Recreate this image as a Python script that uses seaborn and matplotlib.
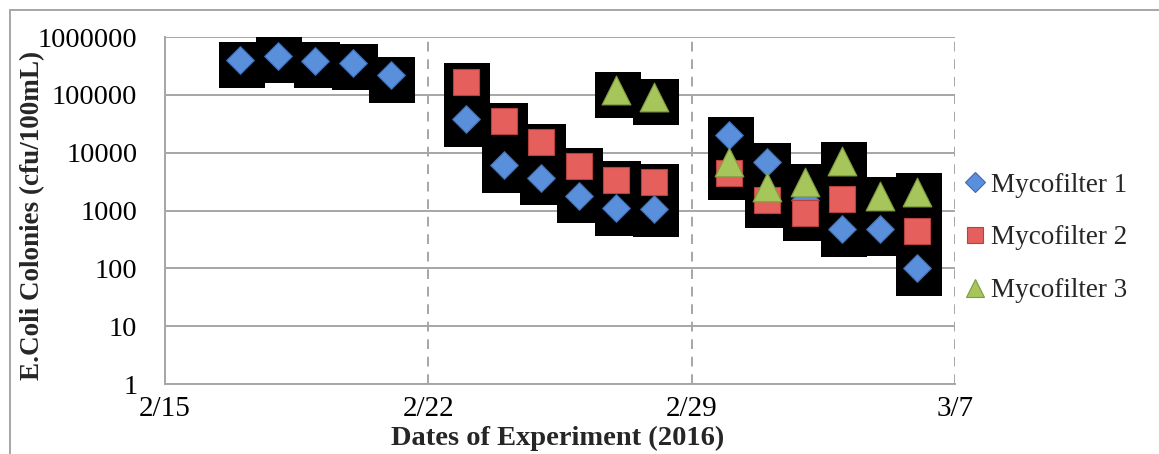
import numpy as np
import pandas as pd
import matplotlib
matplotlib.use("Agg")
import matplotlib.pyplot as plt
import matplotlib.dates as mdates
from matplotlib.lines import Line2D
from matplotlib.transforms import offset_copy
from matplotlib.ticker import NullLocator, FixedLocator, FixedFormatter
import seaborn as sns

# ---- data ----
series_names = ["Mycofilter 1", "Mycofilter 2", "Mycofilter 3"]

dates1 = ["2016-02-17", "2016-02-18", "2016-02-19", "2016-02-20", "2016-02-21",
          "2016-02-23", "2016-02-24", "2016-02-25", "2016-02-26", "2016-02-27",
          "2016-02-28", "2016-03-01", "2016-03-02", "2016-03-03", "2016-03-04",
          "2016-03-05", "2016-03-06"]
myco1 = [400000, 470000, 390000, 360000, 220000,
         38000, 6100, 3700, 1800, 1100,
         1050, 20000, 7000, 1500, 470,
         480, 100]

dates2 = ["2016-02-23", "2016-02-24", "2016-02-25", "2016-02-26", "2016-02-27",
          "2016-02-28", "2016-03-01", "2016-03-02", "2016-03-03", "2016-03-04",
          "2016-03-06"]
myco2 = [170000, 35000, 15000, 5800, 3400,
         3100, 4500, 1500, 900, 1600,
         440]

dates3 = ["2016-02-27", "2016-02-28", "2016-03-01", "2016-03-02", "2016-03-03",
          "2016-03-04", "2016-03-05", "2016-03-06"]
myco3 = [120000, 90000, 7000, 2500, 3100,
         7300, 1800, 2100]

x_ticks = ["2016-02-15", "2016-02-22", "2016-02-29", "2016-03-07"]
x_tick_labels = ["2/15", "2/22", "2/29", "3/7"]
y_ticks = [1, 10, 100, 1000, 10000, 100000, 1000000]
y_tick_labels = ["1", "10", "100", "1000", "10000", "100000", "1000000"]

x_title = "Dates of Experiment (2016)"
y_title = "E.Coli Colonies (cfu/100mL)"

# ---- frame ----
df = pd.concat([
    pd.DataFrame({"date": pd.to_datetime(d), "value": v, "series": n})
    for d, v, n in zip([dates1, dates2, dates3], [myco1, myco2, myco3], series_names)
], ignore_index=True)

sns.set_style("white")
plt.rcParams["font.family"] = ["Liberation Serif", "DejaVu Serif"]

W, H = 1159, 454
fig = plt.figure(figsize=(W / 100, H / 100), dpi=100)
ax = fig.add_axes([165 / W, 1 - 384 / H, (955 - 165) / W, (384 - 37) / H])

# black boxes behind markers
sns.scatterplot(data=df, x="date", y="value", marker="s", color="black",
                s=1050, linewidth=0, legend=False, ax=ax, zorder=2)
ax.collections[0].set_offset_transform(
    offset_copy(ax.transData, fig=fig, x=1.5, y=-4.5, units="dots"))

styles = {
    "Mycofilter 1": dict(marker="D", s=200, color="#5a8fdc", edgecolor="#3b6cb0"),
    "Mycofilter 2": dict(marker="s", s=370, color="#e5605d", edgecolor="#b8403d"),
    "Mycofilter 3": dict(marker="^", s=430, color="#a6c55a", edgecolor="#7f9a40"),
}
for i, name in enumerate(series_names):
    sub = df[df["series"] == name]
    st = styles[name]
    sns.scatterplot(data=sub, x="date", y="value", marker=st["marker"], s=st["s"],
                    color=st["color"], edgecolor=st["edgecolor"], linewidth=0.8,
                    legend=False, ax=ax, zorder=3 + i)

ax.set_yscale("log")
ax.set_ylim(1, 1000000)
xt = pd.to_datetime(x_ticks)
ax.set_xlim(xt[0], xt[-1])
ax.xaxis.set_major_locator(FixedLocator(mdates.date2num(xt)))
ax.xaxis.set_major_formatter(FixedFormatter(x_tick_labels))
ax.yaxis.set_major_locator(FixedLocator(y_ticks))
ax.yaxis.set_major_formatter(FixedFormatter(y_tick_labels))
ax.yaxis.set_minor_locator(NullLocator())
ax.xaxis.set_minor_locator(NullLocator())

grid_c = "#a6a6a6"
ax.yaxis.grid(True, color=grid_c, lw=1.4, ls="-")
ax.xaxis.grid(True, color=grid_c, lw=1.4, ls=(0, (5, 4)))
ax.set_axisbelow(True)
for sp in ["top", "right"]:
    ax.spines[sp].set_visible(False)
for sp in ["left", "bottom"]:
    ax.spines[sp].set_color(grid_c)
    ax.spines[sp].set_linewidth(1.4)

ax.tick_params(axis="both", length=0, colors="black")
ax.tick_params(axis="y", pad=20, labelsize=20.5)
ax.tick_params(axis="x", pad=9, labelsize=21)

ax.set_xlabel(x_title, fontsize=20.5, fontweight="bold")
ax.set_ylabel(y_title, fontsize=19.5, fontweight="bold")
ax.xaxis.set_label_coords(0.497, -0.122)
ax.yaxis.set_label_coords(-0.152, 0.487)

handles = [Line2D([], [], ls="none", marker="D", markersize=10, markerfacecolor="#5a8fdc",
                  markeredgecolor="#3b6cb0", markeredgewidth=0.8),
           Line2D([], [], ls="none", marker="s", markersize=11.5, markerfacecolor="#e5605d",
                  markeredgecolor="#b8403d", markeredgewidth=0.8),
           Line2D([], [], ls="none", marker="^", markersize=12.5, markerfacecolor="#a6c55a",
                  markeredgecolor="#7f9a40", markeredgewidth=0.8)]
fig.legend(handles, series_names, loc="center left",
           bbox_to_anchor=(964 / W, 1 - 238 / H), frameon=False, fontsize=19.5,
           handlelength=0.8, handletextpad=0.2, labelspacing=1.03, borderpad=0,
           borderaxespad=0)

# outer chart border (top and left visible)
fig.add_artist(Line2D([10 / W, 1.0], [1 - 10 / H, 1 - 10 / H], transform=fig.transFigure,
                      color=grid_c, lw=1.4))
fig.add_artist(Line2D([10 / W, 10 / W], [0, 1 - 10 / H], transform=fig.transFigure,
                      color=grid_c, lw=1.4))

fig.savefig("out.png", dpi=100, facecolor="white")
